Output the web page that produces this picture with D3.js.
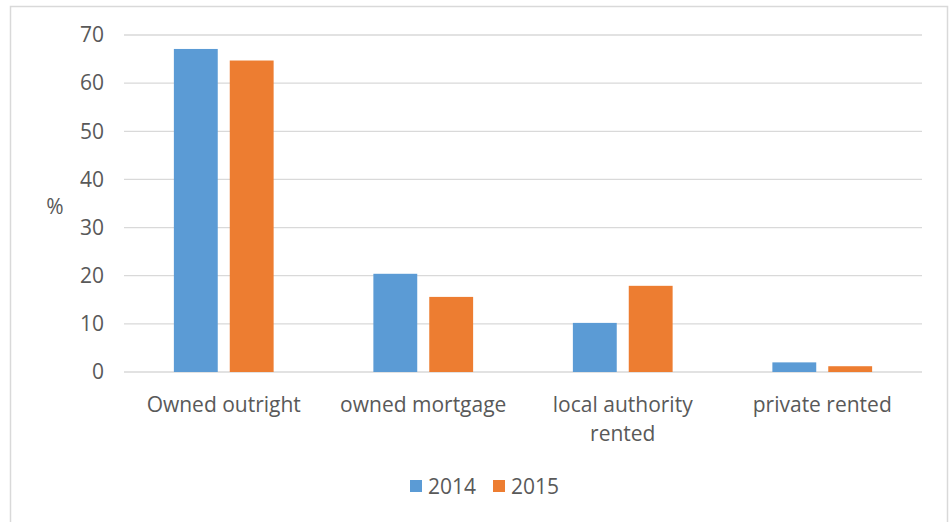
<!DOCTYPE html>
<html>
<head>
<meta charset="utf-8">
<script src="https://cdn.jsdelivr.net/npm/d3@7"></script>
<style>
  html, body { margin: 0; padding: 0; background: #fff; }
  svg text { font-family: "Open Sans", "Noto Sans", sans-serif; fill: #595959; }
</style>
</head>
<body>
<div id="chart"></div>
<script>
// tenure categories (multi-line labels split on \n)
const categories = ['Owned outright', 'owned mortgage', 'local authority\nrented', 'private rented'];
const seriesNames = ['2014', '2015'];
const values2014 = [67.1, 20.4, 10.2, 2.0];
const values2015 = [64.7, 15.6, 17.9, 1.2];
const yTicks = [0, 10, 20, 30, 40, 50, 60, 70];

const colors = ['#5b9bd5', '#ed7d31'];
const width = 950, height = 522;
const margin = { top: 35, right: 28, bottom: 150, left: 124 };
const fs = '21px';

const svg = d3.select('#chart')
  .append('svg')
  .attr('width', width)
  .attr('height', height);

// chart frame (no bottom edge visible in the reference)
svg.append('path')
  .attr('d', `M10.5,${height} V6.5 H947.5 V${height}`)
  .attr('fill', 'none')
  .attr('stroke', '#d9d9d9')
  .attr('stroke-width', 1.5);

const y = d3.scaleLinear()
  .domain([0, 70])
  .range([372, margin.top]);

const x0 = d3.scaleBand()
  .domain(categories)
  .range([margin.left, width - margin.right])
  .paddingInner(0.5)
  .paddingOuter(0.25);

const x1 = d3.scaleBand()
  .domain(seriesNames)
  .range([0, x0.bandwidth()])
  .paddingInner(0.215);

// gridlines
svg.append('g')
  .selectAll('line')
  .data(yTicks)
  .enter()
  .append('line')
  .attr('x1', margin.left)
  .attr('x2', width - margin.right)
  .attr('y1', d => y(d))
  .attr('y2', d => y(d))
  .attr('stroke', '#d9d9d9')
  .attr('stroke-width', 1.3);

// y axis labels
const yAxis = d3.axisLeft(y).tickValues(yTicks).tickSize(0).tickPadding(0);
const yg = svg.append('g')
  .attr('transform', 'translate(104,0)')
  .call(yAxis);
yg.select('.domain').remove();
yg.selectAll('text')
  .style('font-size', fs)
  .attr('font-family', null)
  .attr('fill', null);

svg.append('text')
  .attr('x', 55)
  .attr('y', 214)
  .attr('text-anchor', 'middle')
  .style('font-size', fs)
  .text('%');

// bars
const rows = categories.map((c, i) => ({ cat: c, vals: [values2014[i], values2015[i]] }));
const groups = svg.append('g')
  .selectAll('g')
  .data(rows)
  .enter()
  .append('g')
  .attr('transform', d => `translate(${x0(d.cat)},0)`);

groups.selectAll('rect')
  .data(d => d.vals.map((v, i) => ({ key: seriesNames[i], v, i })))
  .enter()
  .append('rect')
  .attr('x', d => x1(d.key))
  .attr('width', x1.bandwidth())
  .attr('y', d => y(d.v))
  .attr('height', d => y(0) - y(d.v))
  .attr('fill', d => colors[d.i]);

// category labels
const xl = svg.append('g');
categories.forEach(c => {
  const t = xl.append('text')
    .attr('text-anchor', 'middle')
    .style('font-size', fs);
  c.split('\n').forEach((line, k) => {
    t.append('tspan')
      .attr('x', x0(c) + x0.bandwidth() / 2)
      .attr('y', 412 + k * 29)
      .text(line);
  });
});

// legend
const legend = svg.append('g').attr('transform', 'translate(410,480)');
const legX = [0, 83];
seriesNames.forEach((s, i) => {
  legend.append('rect')
    .attr('x', legX[i])
    .attr('y', 0)
    .attr('width', 12)
    .attr('height', 12)
    .attr('fill', colors[i]);
  legend.append('text')
    .attr('x', legX[i] + 18)
    .attr('y', 14)
    .style('font-size', fs)
    .text(s);
});
</script>
</body>
</html>
